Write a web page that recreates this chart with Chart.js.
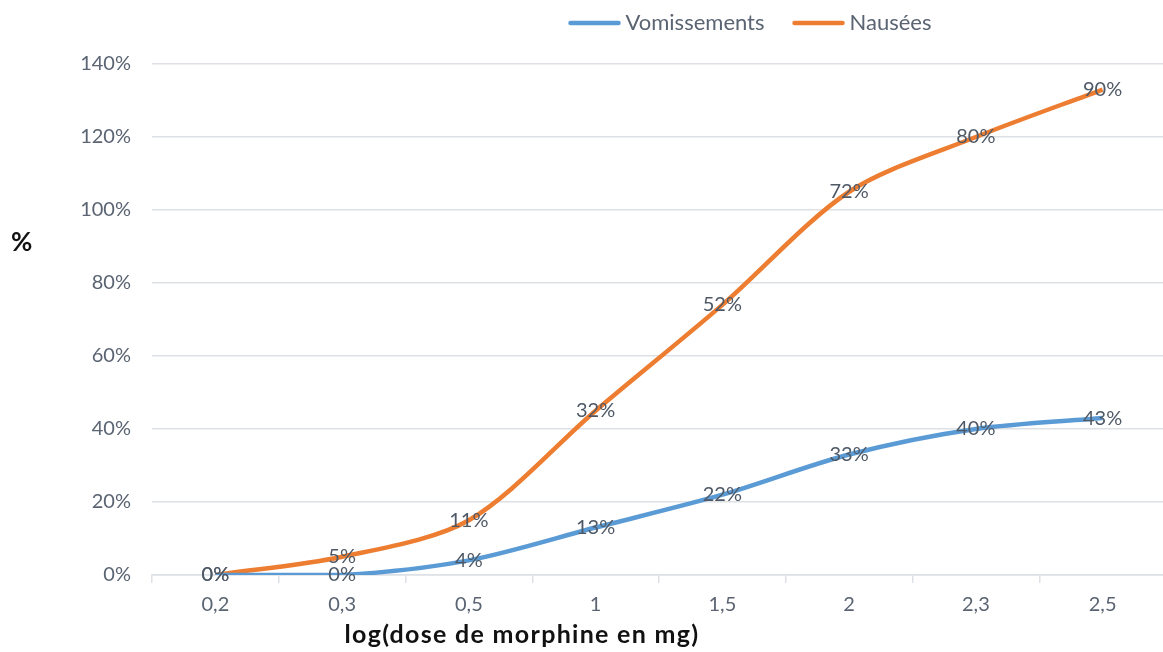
<!DOCTYPE html>
<html>
<head>
<meta charset="utf-8">
<script src="https://cdn.jsdelivr.net/npm/chart.js@4.4.1/dist/chart.umd.min.js"></script>
<style>
  html, body { margin: 0; padding: 0; background: #ffffff; overflow: hidden; }
  #wrap { position: relative; width: 1166px; height: 652px; }
</style>
</head>
<body>
<div id="wrap"><canvas id="chart" width="1166" height="652"></canvas></div>
<script>
// Doses (log scale labels) and percentages for each effect
const doseLabels = ['0,2', '0,3', '0,5', '1', '1,5', '2', '2,3', '2,5'];
const vomissements = [0, 0, 4, 13, 22, 33, 40, 43];
const nausees = [0, 5, 11, 32, 52, 72, 80, 90];
const yTicks = [0, 20, 40, 60, 80, 100, 120, 140];

const FONT = 'Lato, "Open Sans", sans-serif';
const TEXT_GREY = '#5a6472';
const GRID = '#dde1e6';

// Value labels centred on each point (shows each series' own value)
const pointLabels = {
  id: 'pointLabels',
  afterDatasetsDraw(chart) {
    const ctx = chart.ctx;
    ctx.save();
    ctx.font = '20px ' + FONT;
    ctx.fillStyle = '#4f5966';
    ctx.textAlign = 'center';
    ctx.textBaseline = 'middle';
    chart.data.datasets.forEach((ds, i) => {
      const meta = chart.getDatasetMeta(i);
      meta.data.forEach((pt, j) => {
        ctx.fillText(ds.data[j] + '%', pt.x, pt.y);
      });
    });
    ctx.restore();
  }
};

// Legend row and axis titles
const decorations = {
  id: 'decorations',
  afterDraw(chart) {
    const ctx = chart.ctx;
    ctx.save();
    // legend
    ctx.font = '22px ' + FONT;
    const lineLen = 52, gapText = 5, gapItem = 28;
    const items = chart.data.datasets.map(ds => ({
      label: ds.label, color: ds.borderColor,
      w: lineLen + gapText + ctx.measureText(ds.label).width
    }));
    const total = items.reduce((s, it) => s + it.w, 0) + gapItem * (items.length - 1);
    let x = 750 - total / 2;
    const ly = 23;
    items.forEach(it => {
      ctx.strokeStyle = it.color;
      ctx.lineWidth = 4.5;
      ctx.lineCap = 'round';
      ctx.beginPath();
      ctx.moveTo(x + 2, ly);
      ctx.lineTo(x + lineLen - 2, ly);
      ctx.stroke();
      ctx.fillStyle = TEXT_GREY;
      ctx.textAlign = 'left';
      ctx.textBaseline = 'middle';
      ctx.fillText(it.label, x + lineLen + gapText, ly);
      x += it.w + gapItem;
    });
    // y title
    ctx.fillStyle = '#111111';
    ctx.font = 'bold 26px ' + FONT;
    ctx.textAlign = 'left';
    ctx.textBaseline = 'middle';
    ctx.fillText('%', 11, 243);
    // x title
    ctx.font = 'bold 25px ' + FONT;
    ctx.letterSpacing = '1.3px';
    ctx.textAlign = 'center';
    ctx.textBaseline = 'alphabetic';
    ctx.fillText('log(dose de morphine en mg)', 522, 643);
    ctx.restore();
  }
};

new Chart(document.getElementById('chart'), {
  type: 'line',
  data: {
    labels: doseLabels,
    datasets: [
      {
        label: 'Vomissements',
        data: vomissements,
        borderColor: '#5b9bd5',
        backgroundColor: '#5b9bd5',
        borderWidth: 4.5,
        pointRadius: 0,
        tension: 0.3,
        fill: false
      },
      {
        label: 'Nausées',
        data: nausees,
        borderColor: '#ed7d31',
        backgroundColor: '#ed7d31',
        borderWidth: 4.5,
        pointRadius: 0,
        tension: 0.3,
        fill: false
      }
    ]
  },
  options: {
    responsive: false,
    animation: false,
    layout: { padding: { top: 64, right: 0, left: 0, bottom: 0 } },
    plugins: {
      legend: { display: false },
      tooltip: { enabled: false },
      title: { display: false }
    },
    scales: {
      x: {
        stacked: true,
        offset: true,
        grid: {
          offset: true,
          drawOnChartArea: false,
          drawTicks: true,
          tickLength: 8,
          color: GRID,
          lineWidth: 1.5
        },
        border: { display: true, color: GRID, width: 1.5 },
        ticks: { color: TEXT_GREY, font: { family: FONT, size: 20 }, padding: 10 },
        afterFit(scale) { scale.height = 77; }
      },
      y: {
        stacked: true,
        min: 0,
        max: 140,
        afterBuildTicks(scale) { scale.ticks = yTicks.map(v => ({ value: v })); },
        grid: { color: GRID, lineWidth: 1.5, drawTicks: false },
        border: { display: false },
        ticks: {
          color: TEXT_GREY,
          font: { family: FONT, size: 20 },
          padding: 21,
          callback: v => v + '%'
        },
        afterFit(scale) { scale.width = 152; }
      }
    }
  },
  plugins: [pointLabels, decorations]
});
</script>
</body>
</html>
